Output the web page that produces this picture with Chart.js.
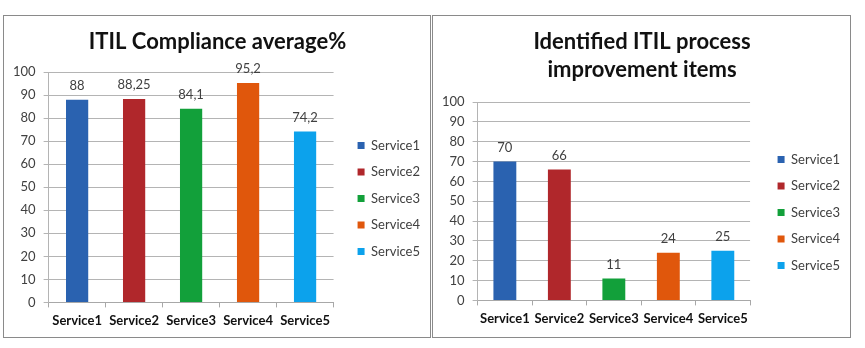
<!DOCTYPE html>
<html>
<head>
<meta charset="utf-8">
<script src="https://cdn.jsdelivr.net/npm/chart.js@4.4.1/dist/chart.umd.min.js"></script>
<style>
body{margin:0;background:#fff;width:865px;height:348px;position:relative;overflow:hidden;}
.box{position:absolute;top:15px;height:321px;border:1px solid #8a8a8a;background:#fff;}
#box1{left:3px;width:426px;}
#box2{left:432px;width:417px;}
canvas{display:block;}
</style>
</head>
<body>
<div class="box" id="box1"><canvas id="chart1" width="426" height="321"></canvas></div>
<div class="box" id="box2"><canvas id="chart2" width="417" height="321"></canvas></div>
<script>
const services = ['Service1', 'Service2', 'Service3', 'Service4', 'Service5'];
const complianceAvg = [88, 88.25, 84.1, 95.2, 74.2];
const improvementItems = [70, 66, 11, 24, 25];
const serviceColors = ['#2a62b0', '#b0272b', '#12a03a', '#e0570c', '#0ca2ec'];

// value labels above each bar, comma as decimal mark
const barLabels = {
  id: 'barLabels',
  afterDatasetsDraw(chart) {
    const ctx = chart.ctx;
    const meta = chart.getDatasetMeta(0);
    const vals = chart.data.datasets[0].data;
    ctx.save();
    ctx.font = '13px Lato';
    ctx.fillStyle = '#404040';
    ctx.textAlign = 'center';
    ctx.textBaseline = 'middle';
    meta.data.forEach((bar, i) => {
      ctx.fillText(String(vals[i]).replace('.', ','), bar.x, bar.y - 14);
    });
    ctx.restore();
  }
};

// push the legend a bit away from the plot area (and down, below the title)
function legendShift(gap, dy) {
  return {
    id: 'legendShift',
    beforeLayout(chart) {
      const lg = chart.legend;
      if (!lg || lg._shiftDone) return;
      lg._shiftDone = true;
      const fit = lg.fit, draw = lg.draw;
      lg.fit = function() { fit.call(this); this.width += gap; };
      lg.draw = function() {
        this.ctx.save();
        this.ctx.translate(gap, dy);
        draw.call(this);
        this.ctx.restore();
      };
    }
  };
}

function makeChart(id, title, values, opts) {
  return new Chart(document.getElementById(id), {
    type: 'bar',
    data: {
      labels: services,
      datasets: [{
        data: values,
        backgroundColor: serviceColors,
        barPercentage: opts.bar,
        categoryPercentage: 1
      }]
    },
    options: {
      responsive: false,
      animation: false,
      layout: {padding: {left: 1, right: opts.right, top: 0, bottom: opts.bottom}},
      plugins: {
        title: {
          display: true,
          text: title,
          color: '#111',
          font: {family: 'Lato', size: 22, weight: 'bold', lineHeight: 28 / 22},
          padding: {top: 12, bottom: opts.titleGap}
        },
        legend: {
          position: 'right',
          labels: {
            boxWidth: 7,
            boxHeight: 7,
            padding: 13.5,
            color: '#404040',
            font: {family: 'Lato', size: 13},
            generateLabels: chart => chart.data.labels.map((l, i) => ({
              text: l,
              fillStyle: serviceColors[i],
              strokeStyle: serviceColors[i],
              lineWidth: 0,
              fontColor: '#404040',
              index: i
            }))
          }
        },
        tooltip: {enabled: false}
      },
      scales: {
        x: {
          grid: {offset: true, drawOnChartArea: false, tickLength: 5, color: '#a8a8a8'},
          border: {color: '#a8a8a8'},
          ticks: {font: {family: 'Lato', size: 13, weight: 'bold'}, color: '#111', padding: 6, maxRotation: 0, autoSkip: false}
        },
        y: {
          min: 0,
          max: 100,
          ticks: {stepSize: 10, font: {family: 'Lato', size: 13}, color: '#404040', padding: 8},
          grid: {color: '#b4b4b4', tickLength: 5},
          border: {color: '#b4b4b4'}
        }
      }
    },
    plugins: [barLabels, legendShift(opts.gap, opts.legendDy)]
  });
}

makeChart('chart1', 'ITIL Compliance average%', complianceAvg,
  {bar: 0.39, right: 0, bottom: 2, titleGap: 16, gap: 10.5, legendDy: 23});
makeChart('chart2', ['Identified ITIL process', 'improvement items'], improvementItems,
  {bar: 0.42, right: 0, bottom: 4, titleGap: 18, gap: 14, legendDy: 38});
</script>
</body>
</html>
